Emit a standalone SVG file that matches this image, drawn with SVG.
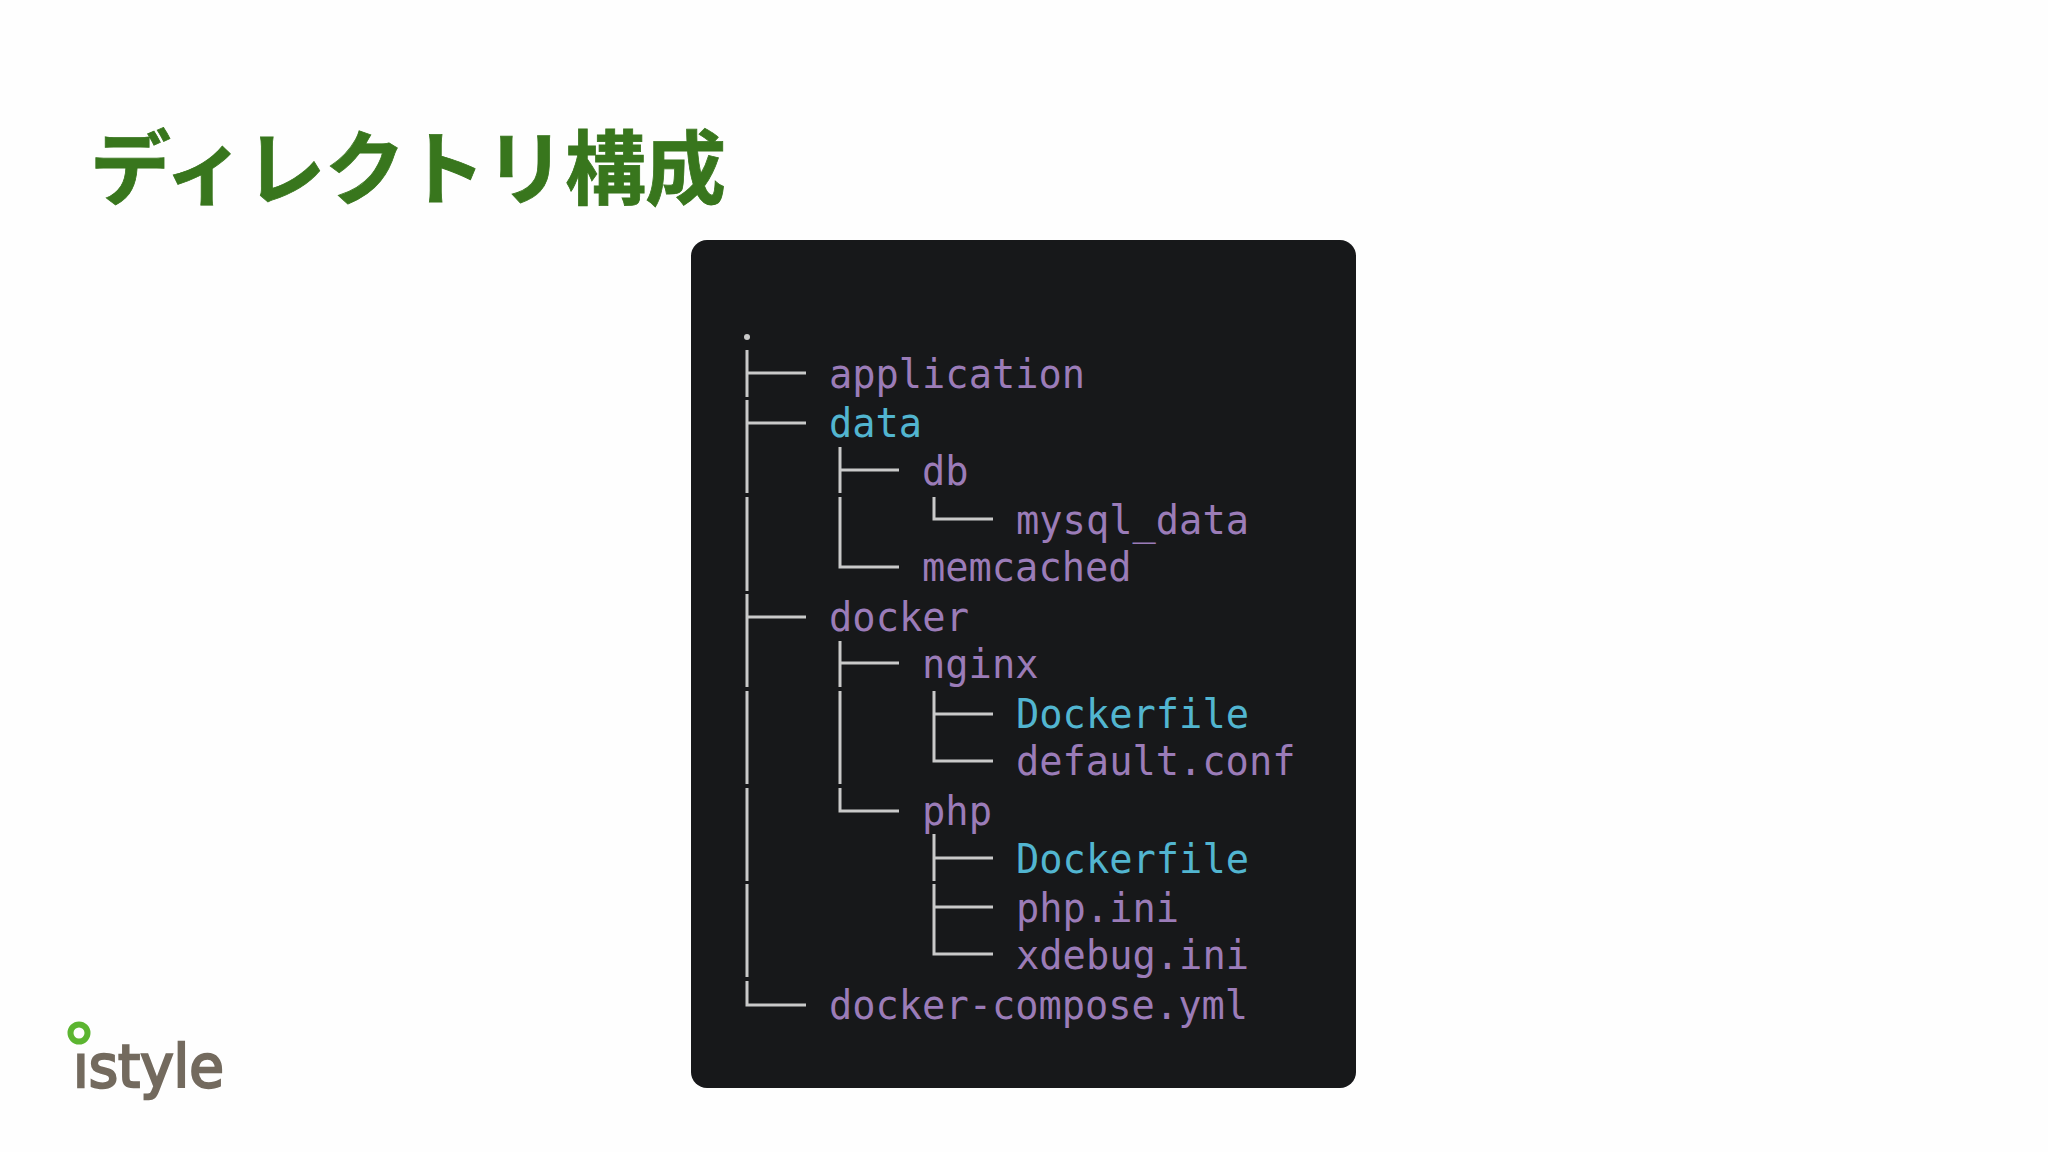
<svg xmlns="http://www.w3.org/2000/svg" width="2048" height="1152" viewBox="0 0 2048 1152">
<style>
.t{font-family:"DejaVu Sans Mono","Liberation Mono",monospace;font-size:41.5px;fill:#9b7cb8}
.c{fill:#52b5d0}
.l{fill:none;stroke:#c9c9c9;stroke-width:3}
</style>
<rect width="2048" height="1152" fill="#fefefe"/>
<text id="title" x="90" y="197.500" font-family="'Noto Sans CJK JP',sans-serif" font-weight="700" font-size="81" fill="#38761d" stroke="#38761d" stroke-width="0.8" textLength="636">ディレクトリ構成</text>
<g id="panel"><rect x="691" y="240" width="665" height="848" rx="16" fill="#17181a"/></g>
<g id="connectors">
<circle cx="747" cy="337" r="3" fill="#c9c9c9"/>
<path class="l" d="M747 350V397M747 400V493M747 497V591M747 594V687M747 691V784M747 788V881M747 884V977M747 981V1005H806M747 373H806M747 423H806M747 617H806"/>
<path class="l" d="M840 447V493M840 497V567H899M840 470H899"/>
<path class="l" d="M934 497V519H993"/>
<path class="l" d="M840 641V687M840 691V784M840 788V811H899M840 663H899"/>
<path class="l" d="M934 691V761H993M934 714H993"/>
<path class="l" d="M934 834V881M934 884V954H993M934 858H993M934 907H993"/>
</g>
<g id="node-application"><text class="t" x="829" y="388" textLength="256" lengthAdjust="spacingAndGlyphs">application</text></g>
<g id="node-data"><text class="t c" x="829" y="437" textLength="93" lengthAdjust="spacingAndGlyphs">data</text></g>
<g id="node-db"><text class="t" x="922" y="485" textLength="46.500" lengthAdjust="spacingAndGlyphs">db</text></g>
<g id="node-mysql"><text class="t" x="1016" y="534" textLength="233" lengthAdjust="spacingAndGlyphs">mysql_data</text></g>
<g id="node-memcached"><text class="t" x="922" y="581" textLength="209.500" lengthAdjust="spacingAndGlyphs">memcached</text></g>
<g id="node-docker"><text class="t" x="829" y="631" textLength="140" lengthAdjust="spacingAndGlyphs">docker</text></g>
<g id="node-nginx"><text class="t" x="922" y="678" textLength="116.500" lengthAdjust="spacingAndGlyphs">nginx</text></g>
<g id="node-dockerfile1"><text class="t c" x="1016" y="728" textLength="233" lengthAdjust="spacingAndGlyphs">Dockerfile</text></g>
<g id="node-default"><text class="t" x="1016" y="775" textLength="279.500" lengthAdjust="spacingAndGlyphs">default.conf</text></g>
<g id="node-php"><text class="t" x="922" y="825" textLength="70" lengthAdjust="spacingAndGlyphs">php</text></g>
<g id="node-dockerfile2"><text class="t c" x="1016" y="873" textLength="233" lengthAdjust="spacingAndGlyphs">Dockerfile</text></g>
<g id="node-phpini"><text class="t" x="1016" y="922" textLength="163" lengthAdjust="spacingAndGlyphs">php.ini</text></g>
<g id="node-xdebug"><text class="t" x="1016" y="969" textLength="233" lengthAdjust="spacingAndGlyphs">xdebug.ini</text></g>
<g id="node-compose"><text class="t" x="829" y="1019" textLength="419" lengthAdjust="spacingAndGlyphs">docker-compose.yml</text></g>
<g id="logo">
<text x="73" y="1087" font-family="'DejaVu Sans',sans-serif" font-size="58" fill="#736a5e" stroke="#736a5e" stroke-width="2.400" textLength="151" lengthAdjust="spacingAndGlyphs">istyle</text>
<rect x="68" y="1036" width="23" height="15" fill="#fefefe"/>
<circle cx="79" cy="1033" r="8.500" fill="#fefefe" stroke="#5cb531" stroke-width="6"/>
</g>
</svg>
